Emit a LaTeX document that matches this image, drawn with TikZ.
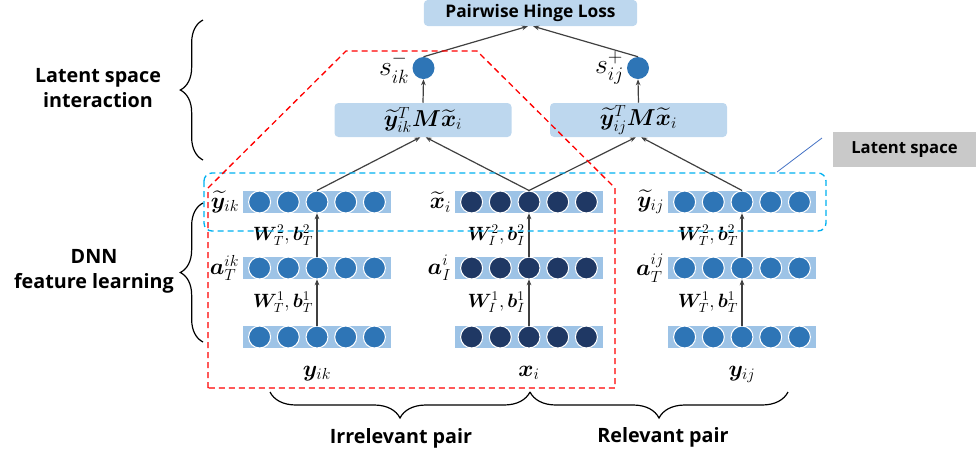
\documentclass[tikz,border=0pt]{standalone}
\usepackage{amsmath}
\usepackage{bm}
\usepackage{fontspec}
\setmainfont{Open Sans}
\usetikzlibrary{positioning, arrows.meta, calc, decorations.pathreplacing}

\definecolor{barblue}{RGB}{157,195,230}
\definecolor{boxblue}{RGB}{189,215,238}
\definecolor{midblue}{RGB}{46,117,182}
\definecolor{navy}{RGB}{31,56,100}
\definecolor{linegray}{RGB}{64,64,64}
\definecolor{tagray}{RGB}{201,201,201}
\definecolor{cyanline}{RGB}{0,176,240}
\definecolor{leaderblue}{RGB}{68,114,196}

\begin{document}
\begin{tikzpicture}[
  x=0.75pt, y=-0.75pt,
  bar/.style={rectangle, fill=barblue, minimum width=111pt, minimum height=16.5pt, inner sep=0pt},
  unit/.style={circle, draw=white, line width=0.8pt, minimum size=16.5pt, inner sep=0pt},
  score/.style={circle, fill=midblue, minimum size=16.5pt, inner sep=0pt},
  opbox/.style={rectangle, rounded corners=3pt, fill=boxblue,
    minimum width=132.75pt, minimum height=25.5pt, inner sep=0pt,
    font=\fontsize{17}{19}\selectfont},
  lossbox/.style={opbox, minimum width=160pt, minimum height=19.5pt,
    font=\fontsize{13}{15}\selectfont\bfseries},
  tagbox/.style={rectangle, fill=tagray, minimum width=107pt, minimum height=26pt,
    font=\fontsize{12.5}{14}\selectfont\bfseries},
  arr/.style={draw=linegray, line width=0.9pt, -{Stealth[length=4.5pt, width=3.5pt]}},
  lbl/.style={font=\fontsize{16.5}{19}\selectfont, inner sep=1pt},
  inlbl/.style={lbl, font=\fontsize{17.5}{19}\selectfont},
  slbl/.style={font=\fontsize{20}{22}\selectfont, inner sep=0pt, anchor=east},
  wlbl/.style={font=\fontsize{14}{16}\selectfont, inner sep=2.5pt},
  head/.style={font=\fontsize{14.8}{19}\selectfont\bfseries, align=center},
  curly/.style={decorate, decoration={brace, amplitude=17pt}, line width=0.9pt},
  hbrace/.style={decorate, decoration={brace, amplitude=19.5pt}, line width=0.9pt},
]

%% ====================================================================
%%  NETWORK LAYERS (input, hidden, embedding) FOR y_ik, x_i, y_ij
%% ====================================================================
\foreach \nm/\xc/\col in {ik/317/midblue, i/529/navy, ij/742/midblue} {
  \foreach \lv/\yc in {bot/337, mid/268, top/202} {
    \node[bar] (\nm-\lv) at (\xc,\yc) {};
    \foreach \k in {1,...,5}
      \node[unit, fill=\col] (\nm-\lv-\k) at ({\xc+(\k-3)*28.7},\yc) {};
  }
}

%% -- layer names --
\node[lbl, left=1.5pt of ik-top] (lyik) {$\widetilde{\bm y}_{ik}$};
\node[lbl, left=1.5pt of ik-mid] (laik) {$\bm a_{T}^{ik}$};
\node[lbl, left=1.5pt of i-top]  (lxi)  {$\widetilde{\bm x}_{i}$};
\node[lbl, left=1.5pt of i-mid]  (lai)  {$\bm a_{I}^{i}$};
\node[lbl, left=1.5pt of ij-top] (lyij) {$\widetilde{\bm y}_{ij}$};
\node[lbl, left=1.5pt of ij-mid] (laij) {$\bm a_{T}^{ij}$};

%% -- inputs --
\node[inlbl, below=12pt of ik-bot] (yik) {$\bm y_{ik}$};
\node[inlbl, below=12pt of i-bot]  (xi)  {$\bm x_{i}$};
\node[inlbl, below=12pt of ij-bot] (yij) {$\bm y_{ij}$};

%% -- layer to layer --
\draw[arr] (ik-bot.north) -- node[wlbl, left] {$\bm W_{T}^{1},\bm b_{T}^{1}$} (ik-mid.south);
\draw[arr] (ik-mid.north) -- node[wlbl, left] {$\bm W_{T}^{2},\bm b_{T}^{2}$} (ik-top.south);
\draw[arr] (i-bot.north)  -- node[wlbl, left] {$\bm W_{I}^{1},\bm b_{I}^{1}$} (i-mid.south);
\draw[arr] (i-mid.north)  -- node[wlbl, left] {$\bm W_{I}^{2},\bm b_{I}^{2}$} (i-top.south);
\draw[arr] (ij-bot.north) -- node[wlbl, left] {$\bm W_{T}^{1},\bm b_{T}^{1}$} (ij-mid.south);
\draw[arr] (ij-mid.north) -- node[wlbl, left] {$\bm W_{T}^{2},\bm b_{T}^{2}$} (ij-top.south);

%% ====================================================================
%%  INTERACTION AND LOSS
%% ====================================================================
\node[opbox] (dotneg) at (423,120)   {$\widetilde{\bm y}_{ik}^{T}\bm M\widetilde{\bm x}_{i}$};
\node[opbox] (dotpos) at (638.5,120) {$\widetilde{\bm y}_{ij}^{T}\bm M\widetilde{\bm x}_{i}$};

\node[score] (sneg) at (423.5,68) {};
\node[score] (spos) at (638,68) {};
\node[slbl] (lsneg) at ([xshift=-2pt]sneg.west) {$s_{ik}^{-}$};
\node[slbl] (lspos) at ([xshift=-2pt]spos.west) {$s_{ij}^{+}$};

\node[lossbox] (loss) at (530.5,13) {Pairwise Hinge Loss};

\draw[arr] (ik-top-3.north) -- ([xshift=-2pt]dotneg.south);
\draw[arr] (i-top-3.north)  -- ([xshift=2pt]dotneg.south);
\draw[arr] (i-top-3.north)  -- ([xshift=-2pt]dotpos.south);
\draw[arr] (ij-top-3.north) -- ([xshift=2pt]dotpos.south);
\draw[arr] (dotneg.north) -- (sneg.south);
\draw[arr] (dotpos.north) -- (spos.south);
\draw[arr] (sneg.north) -- ([xshift=-2pt]loss.south);
\draw[arr] (spos.north) -- ([xshift=2pt]loss.south);

%% ====================================================================
%%  GROUPINGS
%% ====================================================================
% latent space region
\draw[cyanline, line width=1pt, dash pattern=on 4.5pt off 3pt, rounded corners=6pt]
  (204,173) rectangle (826,231);
\node[tagbox] (latent) at (904.5,149.5) {Latent space};
\draw[leaderblue, line width=0.6pt] (822,138) -- (777,172);

% irrelevant pair outline
\draw[red, line width=1pt, dash pattern=on 4.5pt off 3pt]
  (208,388) -- (208,188) -- (346,51) -- (477,51) -- (615,188) -- (615,388) -- cycle;

% stage braces
\draw[curly] (203,160) -- (203,20);
\draw[curly] (203,342) -- (203,203);
\node[head] (lsi) at (98,88)  {Latent space\\interaction};
\node[head] (dnn) at (94,271) {DNN\\feature learning};

% pair braces
\draw[hbrace] (530,392) -- (270,392);
\draw[hbrace] (788,392) -- (530,392);
\node[head] (irr) at (401,438) {Irrelevant pair};
\node[head] (rel) at (663,437) {Relevant pair};

\useasboundingbox (0,0) rectangle (976,455);
\end{tikzpicture}
\end{document}
